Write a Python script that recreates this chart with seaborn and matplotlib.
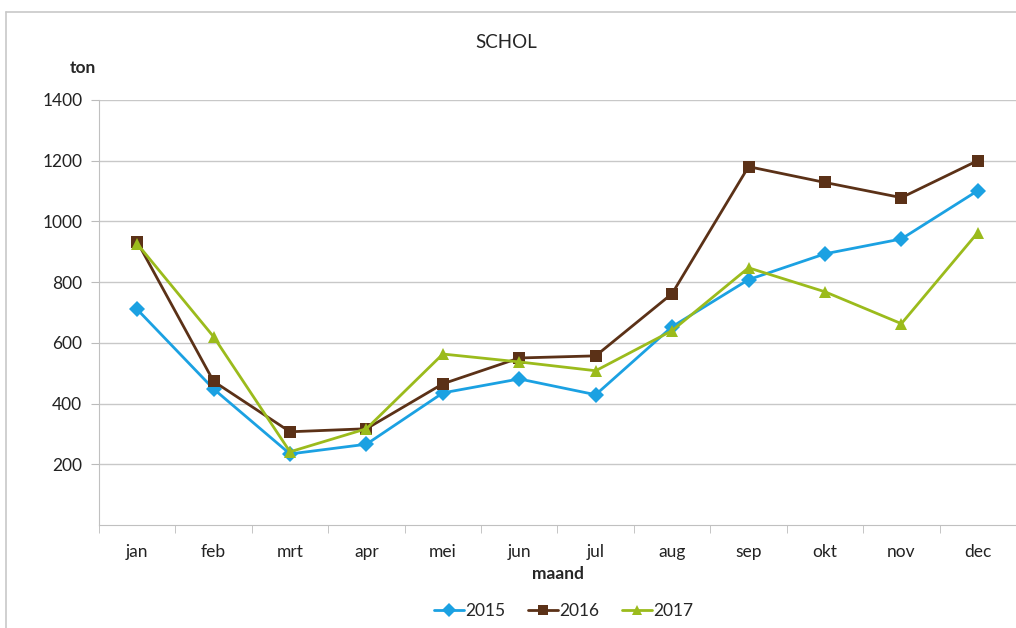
import numpy as np
import pandas as pd
import matplotlib
matplotlib.use('Agg')
import matplotlib.pyplot as plt
import seaborn as sns
from matplotlib.lines import Line2D

# Data
maanden = ['jan', 'feb', 'mrt', 'apr', 'mei', 'jun', 'jul', 'aug', 'sep', 'okt', 'nov', 'dec']
ton_2015 = [710, 448, 234, 266, 435, 481, 429, 653, 808, 893, 942, 1101]
ton_2016 = [933, 473, 307, 317, 465, 550, 557, 762, 1180, 1128, 1078, 1200]
ton_2017 = [926, 620, 241, 317, 563, 537, 508, 640, 847, 768, 663, 963]
jaren = ['2015', '2016', '2017']
kleuren = ['#1BA1E2', '#5B3117', '#9BBB1C']
markers = ['D', 's', '^']

df = pd.DataFrame({
    'maand': maanden * 3,
    'ton': ton_2015 + ton_2016 + ton_2017,
    'jaar': [j for j in jaren for _ in maanden],
})

sns.set_style('white')
plt.rcParams['font.family'] = ['Lato', 'DejaVu Sans']

fig = plt.figure(figsize=(10.16, 6.28), dpi=100)
ax = fig.add_axes([0.0974, 0.164, 0.9026, 0.677])

sns.lineplot(data=df, x='maand', y='ton', hue='jaar', style='jaar',
             palette=kleuren, markers=markers, dashes=False, markersize=8.5,
             markeredgewidth=0, linewidth=2, sort=False, legend=False, ax=ax)

ax.set_xlim(-0.5, 11.5)
ax.set_ylim(0, 1400)
ax.set_yticks(np.arange(200, 1401, 200))
ax.yaxis.grid(True, color='#c8c8c8', linewidth=1)
ax.set_axisbelow(True)
ax.set_xticks(range(12))
ax.set_xticklabels(maanden)
ax.set_xticks(np.arange(-0.5, 12, 1), minor=True)
ax.tick_params(axis='x', which='major', length=0, labelsize=12.5, pad=14, colors='#222222')
ax.tick_params(axis='x', which='minor', length=6, color='#bbbbbb', direction='out', bottom=True)
ax.tick_params(axis='y', length=6, color='#bbbbbb', labelsize=12.5, pad=6, colors='#222222', left=True)
for s in ['top', 'right']:
    ax.spines[s].set_visible(False)
for s in ['left', 'bottom']:
    ax.spines[s].set_color('#c0c0c0')
ax.set_xlabel('maand', fontsize=12.5, fontweight='bold', labelpad=4)
ax.set_ylabel('')

fig.text(0.498, 0.932, 'SCHOL', ha='center', va='center', fontsize=13.5)
fig.text(0.069, 0.892, 'ton', ha='left', va='center', fontsize=12.5, fontweight='bold')

# chart border (left and top)
fig.add_artist(Line2D([0.006, 0.006], [0, 0.981], color='#c8c8c8', linewidth=1.2))
fig.add_artist(Line2D([0.006, 1.0], [0.981, 0.981], color='#c8c8c8', linewidth=1.2))

handles = [Line2D([0], [0], color=c, marker=m, markersize=7.5, markeredgewidth=0, linewidth=2)
           for c, m in zip(kleuren, markers)]
fig.legend(handles, jaren, loc='center', bbox_to_anchor=(0.555, 0.027), ncol=3,
           frameon=False, fontsize=12.5, handlelength=1.7, handletextpad=0.1, columnspacing=1.3)

fig.savefig('out.png', dpi=100)
